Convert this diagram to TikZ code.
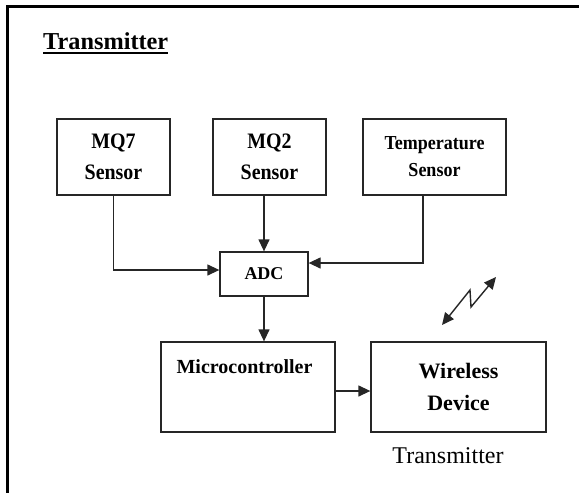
\documentclass[tikz,border=0pt]{standalone}
\usepackage{fontspec}
\setmainfont{Liberation Serif}
\usetikzlibrary{arrows.meta}
\tikzset{
  box/.style={draw=black!85, line width=1.3pt, inner sep=0pt, align=center},
  tip/.tip={Triangle[length=12pt,width=11pt]},
  arr/.style={draw=black!85, line width=1.3pt, -tip},
  frame/.style={line width=2.4pt, black}
}
\begin{document}
\begin{tikzpicture}[x=1pt,y=-1pt]
\useasboundingbox (0,0) rectangle (579,493);
% frame
\draw[frame] (7.5,493) -- (7.5,6.5) -- (579,6.5);
% title
\node[anchor=base west, inner sep=0pt, font=\fontsize{24.3}{28}\selectfont\bfseries] (title) at (43,49) {Transmitter};
\draw[line width=1.5pt] ([yshift=-4pt]title.base west) -- ([yshift=-4pt]title.base east);
% sensor boxes
\node[box, minimum width=113pt, minimum height=76pt, font=\fontsize{21}{31}\selectfont\bfseries] (mq7) at (113.5,157) {\scalebox{0.95}[1.05]{MQ7}\\\scalebox{0.95}[1.05]{Sensor}};
\node[box, minimum width=113pt, minimum height=76pt, font=\fontsize{21}{31}\selectfont\bfseries] (mq2) at (269.5,157) {\scalebox{0.95}[1.05]{MQ2}\\\scalebox{0.95}[1.05]{Sensor}};
\node[box, minimum width=143pt, minimum height=76pt, font=\fontsize{18}{27}\selectfont\bfseries] (temp) at (434.5,157) {\scalebox{1}[1.1]{Temperature}\\\scalebox{1}[1.1]{Sensor}};
% ADC
\node[box, minimum width=88pt, minimum height=44pt, font=\fontsize{18}{22}\selectfont\bfseries] (adc) at (264,274) {ADC};
% microcontroller
\node[box, minimum width=174pt, minimum height=90pt] (mcu) at (248,387) {};
\node[anchor=base, inner sep=0pt, font=\fontsize{20}{24}\selectfont\bfseries] (mcutext) at (244.5,373) {Microcontroller};
% wireless
\node[box, minimum width=175pt, minimum height=90pt, font=\fontsize{22}{32}\selectfont\bfseries] (wd) at (458.5,387) {Wireless\\Device};
\node[anchor=base, inner sep=0pt, font=\fontsize{24}{28}\selectfont] (txlabel) at (448,463) {Transmitter};
% connectors
\draw[arr] (mq7.south) |- ([yshift=4pt]adc.west);
\draw[arr] (adc.north |- mq2.south) -- (adc.north);
\draw[arr] ([xshift=-11.5pt]temp.south) |- ([yshift=11pt]adc.east);
\draw[arr] (adc.south) -- (adc.south |- mcu.north);
\draw[arr] ([yshift=-4pt]mcu.east) -- ([yshift=-4pt]wd.west);
% wireless symbol
\coordinate (za) at (442,325);
\coordinate (zb) at (470,290);
\coordinate (zc) at (471,307);
\coordinate (zd) at (496,277);
\draw[black!85, line width=1.4pt, tip-tip] (za) -- (zb) -- (zc) -- (zd);
\end{tikzpicture}
\end{document}
